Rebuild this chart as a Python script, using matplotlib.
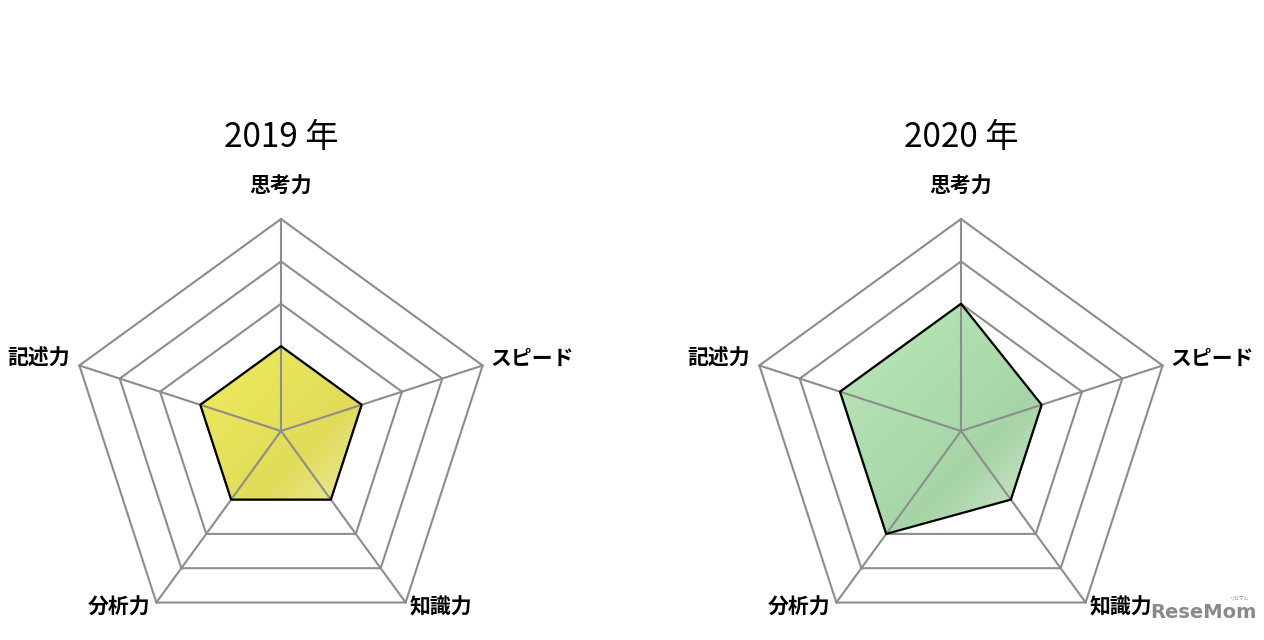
import numpy as np
import matplotlib
matplotlib.use('Agg')
import matplotlib.pyplot as plt
from matplotlib.colors import LinearSegmentedColormap
from matplotlib.patches import Polygon

plt.rcParams['font.family'] = ['Noto Sans CJK JP', 'DejaVu Sans']

# データ
categories = ['思考力', 'スピード', '知識力', '分析力', '記述力']
years = ['2019 年', '2020 年']
scores_2019 = [2, 2, 2, 2, 2]
scores_2020 = [3, 2, 2, 3, 3]
max_level = 5

# 見た目
grid_color = '#8c8c8c'
fills = [
    ['#f2f060', '#e9e65c', '#e0dc58', '#eeeba8', '#f8f7e2'],
    ['#b8e8b8', '#aedeae', '#a6d4a6', '#cfe8cf', '#e9f5e9'],
]

W, H = 1264, 640
px_per_unit = 212 / max_level
center_px = [(281, 431), (961, 431)]
ax_w = 562

n = len(categories)
ang = np.pi / 2 - 2 * np.pi * np.arange(n) / n
ux, uy = np.cos(ang), np.sin(ang)

fig = plt.figure(figsize=(W / 100, H / 100), dpi=100)


def radar(ax, values, year, colors):
    # 目盛りの五角形
    for lv in range(1, max_level + 1):
        ax.add_patch(Polygon(np.c_[ux * lv, uy * lv], closed=True, fill=False,
                             edgecolor=grid_color, lw=1.5, zorder=1))
    v = np.array(values, dtype=float)
    pts = np.c_[ux * v, uy * v]
    poly = Polygon(pts, closed=True, facecolor='none', edgecolor='black',
                   lw=1.6, zorder=4, joinstyle='round')
    ax.add_patch(poly)
    # グラデーション塗り
    xs = np.linspace(-max_level, max_level, 300)
    X, Y = np.meshgrid(xs, xs[::-1])
    T = (X - Y) / (2 * max_level) * 0.5 + 0.5
    T = np.clip((T - 0.25) / 0.6, 0, 1)
    cmap = LinearSegmentedColormap.from_list('g', colors)
    im = ax.imshow(T, cmap=cmap, extent=(-max_level, max_level, -max_level, max_level),
                   zorder=2, interpolation='bilinear', aspect='auto')
    clip = Polygon(pts, closed=True, transform=ax.transData)
    im.set_clip_path(clip)
    # 軸線
    for i in range(n):
        ax.plot([0, ux[i] * max_level], [0, uy[i] * max_level], color=grid_color,
                lw=1.5, zorder=3)
    # ラベル
    lab = dict(fontsize=15, fontweight='bold', color='black', zorder=5)
    ax.text(0, 5.78, categories[0], ha='center', va='center', **lab)
    ax.text(4.93, 1.72, categories[1], ha='left', va='center', **lab)
    ax.text(3.04, -4.15, categories[2], ha='left', va='center', **lab)
    ax.text(-3.09, -4.15, categories[3], ha='right', va='center', **lab)
    ax.text(-4.98, 1.72, categories[4], ha='right', va='center', **lab)
    ax.text(0, 6.93, year, ha='center', va='center', fontsize=24, color='black')


for k, (cx, cy) in enumerate(center_px):
    left = cx - ax_w / 2
    ax = fig.add_axes([left / W, 0, ax_w / W, 1])
    ax.set_xlim(-(ax_w / 2) / px_per_unit, (ax_w / 2) / px_per_unit)
    ax.set_ylim(-(H - cy) / px_per_unit, cy / px_per_unit)
    ax.axis('off')
    radar(ax, [scores_2019, scores_2020][k], years[k], fills[k])

# ロゴ
fig.text(1203 / W, 1 - 613 / H, 'ReseMom', ha='center', va='center', fontsize=14,
         fontweight='bold', color='#8a8a8a', family='DejaVu Sans')
fig.text(1240 / W, 1 - 598 / H, 'リセマム', ha='center', va='center', fontsize=3.5,
         color='#8a8a8a')

fig.savefig('out.png', dpi=100)
